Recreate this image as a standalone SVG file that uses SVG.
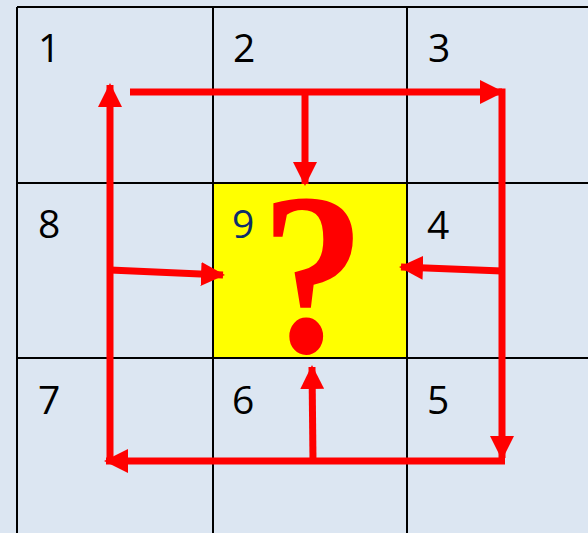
<svg xmlns="http://www.w3.org/2000/svg" width="588" height="533" viewBox="0 0 588 533">
<defs>
<style>
.grid{stroke:#000;stroke-width:2;fill:none}
.num{font-family:"Open Sans","Liberation Sans",sans-serif;font-size:39px;fill:#000}
.arr{stroke:#ff0000;stroke-width:7;fill:none}
</style>
<marker id="ah" markerUnits="userSpaceOnUse" markerWidth="24" markerHeight="24" viewBox="0 0 24 24" refX="22" refY="12" orient="auto">
<path d="M0,0 L24,12 L0,24 Z" fill="#ff0000"/>
</marker>
</defs>
<rect x="0" y="0" width="588" height="533" fill="#dce6f2"/>
<g id="cell9">
<rect x="213" y="183" width="194" height="175" fill="#ffff00"/>
</g>
<g id="grid">
<path class="grid" d="M17,7 H588 M17,183 H588 M17,358 H588 M17,7 V533 M213,7 V533 M407,7 V533"/>
</g>
<g id="n1"><text class="num" x="38" y="62">1</text></g>
<g id="n2"><text class="num" x="233" y="62">2</text></g>
<g id="n3"><text class="num" x="428" y="62">3</text></g>
<g id="n8"><text class="num" x="38" y="238">8</text></g>
<g id="n9"><text class="num" x="232" y="238" style="fill:#0d2d6b">9</text></g>
<g id="n4"><text class="num" x="427" y="239">4</text></g>
<g id="n7"><text class="num" x="38" y="414">7</text></g>
<g id="n6"><text class="num" x="232" y="414">6</text></g>
<g id="n5"><text class="num" x="427" y="414">5</text></g>
<g id="qmark"><text x="0" y="0" transform="translate(313,352) scale(0.95,1.05)" text-anchor="middle" font-family="Liberation Serif, serif" font-weight="bold" font-size="220" fill="#ff0000">?</text></g>
<g id="connectors">
<line class="arr" x1="130" y1="92" x2="502" y2="92" marker-end="url(#ah)"/>
<line class="arr" x1="502" y1="88.5" x2="502" y2="458" marker-end="url(#ah)"/>
<line class="arr" x1="505" y1="461" x2="106" y2="461" marker-end="url(#ah)"/>
<line class="arr" x1="110" y1="464" x2="110" y2="85" marker-end="url(#ah)"/>
<line class="arr" x1="305" y1="92" x2="305" y2="184" marker-end="url(#ah)"/>
<line class="arr" x1="110" y1="270" x2="223" y2="275" marker-end="url(#ah)"/>
<line class="arr" x1="502" y1="271" x2="401" y2="267" marker-end="url(#ah)"/>
<line class="arr" x1="313" y1="461" x2="312" y2="367" marker-end="url(#ah)"/>
</g>
</svg>
